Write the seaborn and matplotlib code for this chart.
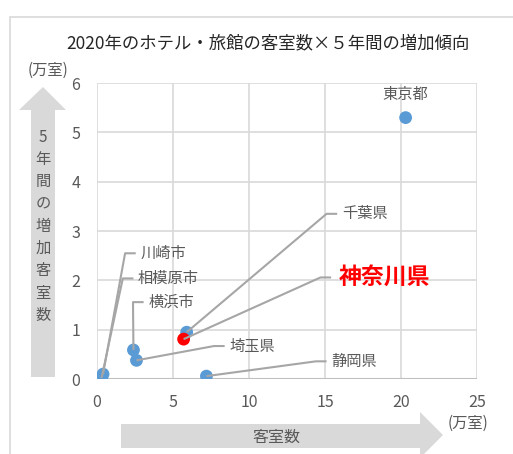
import matplotlib
matplotlib.use("Agg")
import matplotlib.pyplot as plt
from matplotlib.patches import Polygon, Rectangle
import seaborn as sns
import pandas as pd

# data (万室)
places = ['東京都', '千葉県', '神奈川県', '横浜市', '埼玉県', '静岡県', '川崎市', '相模原市']
rooms = [20.3, 5.9, 5.7, 2.4, 2.6, 7.2, 0.4, 0.3]
increase = [5.3, 0.95, 0.81, 0.59, 0.38, 0.06, 0.1, 0.02]
highlight = ['神奈川県']

x_ticks = [0, 5, 10, 15, 20, 25]
y_ticks = [0, 1, 2, 3, 4, 5, 6]

# label placement: (elbow x, elbow y) in data units
label_pos = {
    '千葉県': (15.1, 3.35),
    '神奈川県': (14.7, 2.06),
    '横浜市': (2.37, 1.56),
    '埼玉県': (7.7, 0.67),
    '静岡県': (14.4, 0.36),
    '川崎市': (1.85, 2.55),
    '相模原市': (1.7, 2.04),
}

df = pd.DataFrame({'place': places, 'rooms': rooms, 'increase': increase})
df['group'] = ['hl' if p in highlight else 'normal' for p in places]

sns.set_theme(style="white")
plt.rcParams['font.family'] = ['Noto Sans CJK JP', 'DejaVu Sans']

grey = '#595959'
light = '#d9d9d9'

fig = plt.figure(figsize=(5.13, 4.54), dpi=100)
ax = fig.add_axes([0.189, 0.165, 0.741, 0.652])

sns.scatterplot(data=df, x='rooms', y='increase', hue='group',
                palette={'normal': '#5b9bd5', 'hl': '#ff0000'},
                s=85, edgecolor='none', legend=False, ax=ax, zorder=3)

ax.set_xlim(0, 25)
ax.set_ylim(0, 6)
ax.set_xticks(x_ticks)
ax.set_yticks(y_ticks)
ax.grid(True, color=light, lw=1.2)
ax.set_axisbelow(True)
for s in ax.spines.values():
    s.set_visible(False)
ax.axhline(0, color='#bfbfbf', lw=1.5, zorder=1)
ax.tick_params(axis='y', length=0, labelsize=11.5, labelcolor=grey, pad=12)
ax.tick_params(axis='x', length=0, labelsize=11.5, labelcolor=grey, pad=11)
ax.set_xlabel('')
ax.set_ylabel('')

# leader lines and labels
for p, x, y in zip(places, rooms, increase):
    if p == '東京都':
        ax.text(x, y + 0.3, p, ha='center', va='bottom', fontsize=11, color=grey)
        continue
    ex, ey = label_pos[p]
    ax.plot([x, ex, ex + 0.7], [y, ey, ey], color='#a6a6a6', lw=1.5, zorder=4,
            solid_capstyle='butt')
    if p in highlight:
        ax.text(ex + 1.2, ey, p, ha='left', va='center', fontsize=16.5,
                fontweight='bold', color='#ff0000')
    else:
        ax.text(ex + 1.0, ey, p, ha='left', va='center', fontsize=11, color=grey)

# chart frame
fig.patches.append(Rectangle((10 / 513, -0.1), 1.2, 1 - 17 / 454 + 0.1,
                             transform=fig.transFigure, fill=False,
                             edgecolor=light, lw=1.2))

fig.text(268 / 513, 1 - 43 / 454, '2020年のホテル・旅館の客室数×５年間の増加傾向',
         ha='center', va='center', fontsize=12.5, color='#262626')

# arrows, in pixel coords of the figure
def fp(px, py):
    return (px / 513, 1 - py / 454)

yarrow = [fp(43, 87), fp(66, 110), fp(55, 110), fp(55, 377), fp(31, 377),
          fp(31, 110), fp(19, 110)]
fig.patches.append(Polygon(yarrow, closed=True, transform=fig.transFigure,
                           facecolor=light, edgecolor='none'))
xarrow = [fp(121, 424), fp(420, 424), fp(420, 412), fp(443, 435), fp(420, 458),
          fp(420, 448), fp(121, 448)]
fig.patches.append(Polygon(xarrow, closed=True, transform=fig.transFigure,
                           facecolor=light, edgecolor='none'))

ylabel_chars = '5年間の増加客室数'
for i, ch in enumerate(ylabel_chars):
    fig.text(43 / 513, 1 - (137 + i * 22.3) / 454, ch, ha='center', va='center',
             fontsize=11, color=grey)

fig.text(276 / 513, 1 - 437 / 454, '客室数', ha='center', va='center',
         fontsize=11.5, color=grey)
fig.text(48 / 513, 1 - 70 / 454, '(万室)', ha='center', va='center',
         fontsize=11, color=grey)
fig.text(468 / 513, 1 - 423 / 454, '(万室)', ha='center', va='center',
         fontsize=11, color=grey)

fig.savefig('out.png', dpi=100)
